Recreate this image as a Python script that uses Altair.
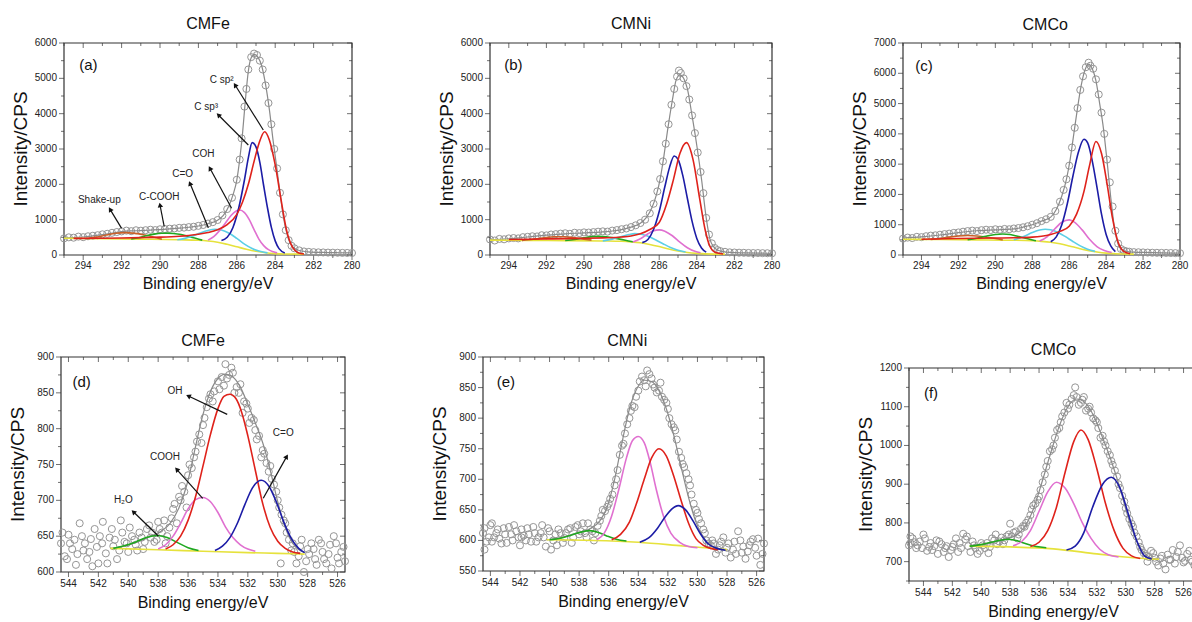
import math
import altair as alt
import pandas as pd

W, H = 1192, 622
FONT = "Liberation Sans"

# ---------------- layout of the six panels (domain -> pixel range) ----------------
LAYOUT = {
    "a": dict(xd=[295, 280], xr=[64, 352], yd=[0, 6000], yr=[255, 43], lab=11, tit=29),
    "b": dict(xd=[295, 280], xr=[490, 772], yd=[0, 6000], yr=[255, 43], lab=11, tit=29),
    "c": dict(xd=[295, 280], xr=[903, 1180], yd=[0, 7000], yr=[255, 43], lab=11, tit=29),
    "d": dict(xd=[544.5, 525.5], xr=[61, 345], yd=[600, 900], yr=[572, 357], lab=12, tit=31),
    "e": dict(xd=[544.5, 525.5], xr=[483, 764], yd=[550, 900], yr=[571, 357], lab=12, tit=31),
    "f": dict(xd=[545, 525], xr=[909, 1198], yd=[650, 1200], yr=[581, 368], lab=12, tit=31),
}

# tick values
C_TICKS = [294, 292, 290, 288, 286, 284, 282, 280]
C_MINOR = [295, 293, 291, 289, 287, 285, 283, 281]
O_TICKS = [544, 542, 540, 538, 536, 534, 532, 530, 528, 526]
O_MINOR = [543, 541, 539, 537, 535, 533, 531, 529, 527]
F_MINOR_X = [545, 543, 541, 539, 537, 535, 533, 531, 529, 527, 525]
Y6 = [0, 1000, 2000, 3000, 4000, 5000, 6000]
Y6_MINOR = [500, 1500, 2500, 3500, 4500, 5500]
Y7 = [0, 1000, 2000, 3000, 4000, 5000, 6000, 7000]
Y7_MINOR = [500, 1500, 2500, 3500, 4500, 5500, 6500]
YD = [600, 650, 700, 750, 800, 850, 900]
YD_MINOR = [625, 675, 725, 775, 825, 875]
YE = [550, 600, 650, 700, 750, 800, 850, 900]
YE_MINOR = [575, 625, 675, 725, 775, 825, 875]
YF = [700, 800, 900, 1000, 1100, 1200]
YF_MINOR = [650, 750, 850, 950, 1050, 1150]

COLORS = {"bg": "#e6e23c", "shake": "#c9612a", "green": "#20a820", "cyan": "#5ccfe6",
          "mag": "#e070d0", "blue": "#1c1ca6", "red": "#df221b"}

# ================= (a) CMFe C1s =================
A_SCATTER = [(295.0, 470), (294.75, 500), (294.5, 490), (294.25, 520), (294.0, 505), (293.75, 530),
             (293.5, 545), (293.25, 560), (293.0, 585), (292.75, 600), (292.5, 628), (292.25, 650),
             (292.0, 668), (291.75, 690), (291.5, 675), (291.25, 700), (291.0, 688), (290.75, 702),
             (290.5, 715), (290.25, 705), (290.0, 728), (289.75, 735), (289.5, 745), (289.25, 752),
             (289.0, 768), (288.75, 775), (288.5, 790), (288.25, 800), (288.0, 825), (287.75, 850),
             (287.5, 890), (287.25, 930), (287.0, 990), (286.75, 1120), (286.5, 1300), (286.25, 1620),
             (286.0, 2130), (285.85, 2700), (285.75, 3300), (285.6, 4200), (285.5, 4700), (285.4, 5250),
             (285.25, 5600), (285.1, 5700), (284.95, 5660), (284.8, 5500), (284.65, 5250), (284.5, 4800),
             (284.35, 4300), (284.2, 3700), (284.05, 3000), (283.9, 2450), (283.75, 1760), (283.6, 1150),
             (283.45, 700), (283.3, 420), (283.15, 260), (283.0, 190), (282.75, 130), (282.5, 100),
             (282.25, 88), (282.0, 80), (281.75, 75), (281.5, 72), (281.25, 68), (281.0, 66),
             (280.75, 63), (280.5, 60), (280.25, 58), (280.0, 57)]
A_FIT = [(295, 480), (294.5, 495), (294, 510), (293.5, 540), (293, 575), (292.5, 620), (292, 660),
         (291.5, 680), (291, 690), (290.5, 705), (290, 720), (289.5, 740), (289, 760), (288.5, 785),
         (288, 820), (287.5, 885), (287, 985), (286.7, 1120), (286.4, 1400), (286.2, 1700), (286.0, 2120),
         (285.85, 2700), (285.7, 3450), (285.55, 4400), (285.4, 5200), (285.25, 5580), (285.08, 5680),
         (284.9, 5600), (284.7, 5350), (284.5, 4820), (284.3, 4100), (284.1, 3200), (283.92, 2480),
         (283.75, 1760), (283.58, 1100), (283.4, 620), (283.22, 330), (283.0, 190), (282.7, 120),
         (282.3, 90), (281.5, 72), (280.7, 64), (280, 60)]
A_BG = [(295, 475), (293, 462), (291, 448), (289, 432), (288, 418), (287.5, 398), (287, 362), (286.5, 302),
        (286, 232), (285.5, 162), (285, 104), (284.5, 62), (284, 40), (283.5, 30), (282.5, 25)]
A_SHAKE = [(293.8, 468), (293.3, 505), (292.8, 565), (292.3, 615), (291.8, 633), (291.3, 612),
           (290.8, 565), (290.3, 505), (289.9, 446)]
A_CCOOH = [(291.5, 455), (291.1, 490), (290.7, 545), (290.3, 590), (289.9, 615), (289.6, 620),
           (289.3, 610), (288.9, 578), (288.5, 520), (288.1, 465), (287.8, 420)]
A_CO = [(289.1, 432), (288.7, 470), (288.3, 540), (287.9, 625), (287.5, 695), (287.15, 728), (286.8, 705),
        (286.4, 615), (286.0, 470), (285.6, 310), (285.2, 185), (284.8, 105), (284.4, 60)]
A_COH = [(287.5, 420), (287.2, 520), (286.9, 690), (286.6, 900), (286.3, 1120), (286.05, 1240),
         (285.85, 1272), (285.6, 1200), (285.35, 1000), (285.1, 720), (284.85, 450), (284.6, 265),
         (284.35, 150), (284.1, 90), (283.9, 60)]
A_SP3 = [(286.8, 410), (286.5, 500), (286.2, 780), (285.9, 1330), (285.6, 2130), (285.4, 2750),
         (285.2, 3180), (285.0, 3060), (284.8, 2620), (284.6, 1960), (284.4, 1330), (284.2, 780),
         (284.0, 400), (283.8, 180), (283.5, 60)]
A_SP2 = [(294.5, 470), (293, 475), (292, 482), (291, 492), (290, 505), (289, 530), (288.5, 552), (288, 585),
         (287.5, 635), (287, 715), (286.5, 860), (286, 1150), (285.7, 1500), (285.4, 2000), (285.1, 2650),
         (284.85, 3150), (284.55, 3490), (284.3, 3250), (284.0, 2550), (283.7, 1580), (283.4, 680),
         (283.1, 220), (282.8, 65), (282.5, 30)]
A_NOTES = [("C sp\u00b2", 286.79, 4953), ("C sp\u00b3", 287.6, 4179), ("COH", 287.74, 2858),
           ("C=O", 288.82, 2292), ("C-COOH", 290.04, 1651), ("Shake-up", 293.16, 1557)]
A_ARROWS = [(284.62, 3538, 286.09, 4811), (285.4, 3113, 286.96, 3962), (286.27, 1321, 287.4, 2453),
            (287.48, 773, 288.44, 2028), (289.78, 802, 290.0, 1415), (292.0, 755, 292.6, 1292)]

# ================= (b) CMNi C1s =================
B_SCATTER = [(295.0, 440), (294.75, 410), (294.5, 455), (294.25, 445), (294.0, 470), (293.75, 480),
             (293.5, 470), (293.25, 505), (293.0, 515), (292.75, 530), (292.5, 525), (292.25, 560),
             (292.0, 555), (291.75, 580), (291.5, 590), (291.25, 605), (291.0, 615), (290.75, 600),
             (290.5, 630), (290.25, 620), (290.0, 640), (289.75, 635), (289.5, 648), (289.25, 660),
             (289.0, 670), (288.75, 662), (288.5, 690), (288.25, 705), (288.0, 730), (287.75, 750),
             (287.5, 790), (287.25, 840), (287.0, 905), (286.75, 1000), (286.5, 1180), (286.3, 1450),
             (286.1, 1800), (285.95, 2150), (285.8, 2650), (285.65, 3150), (285.5, 3700), (285.35, 4250),
             (285.2, 4700), (285.05, 5050), (284.95, 5220), (284.85, 5150), (284.7, 5000), (284.55, 4780),
             (284.4, 4400), (284.25, 3950), (284.1, 3450), (283.95, 2900), (283.8, 2350), (283.65, 1750),
             (283.5, 1050), (283.35, 580), (283.2, 330), (283.05, 200), (282.9, 140), (282.75, 110),
             (282.5, 90), (282.25, 75), (282.0, 70), (281.75, 65), (281.5, 62), (281.25, 58), (281.0, 55),
             (280.75, 55), (280.5, 52), (280.25, 50), (280.0, 48)]
B_FIT = [(295, 430), (294, 460), (293, 510), (292, 560), (291, 600), (290, 625), (289, 655), (288.5, 680),
         (288, 720), (287.5, 790), (287, 900), (286.7, 1050), (286.4, 1320), (286.15, 1700), (285.95, 2150),
         (285.75, 2800), (285.55, 3550), (285.3, 4380), (285.1, 4950), (284.9, 5100), (284.7, 5000),
         (284.5, 4700), (284.27, 4000), (284.0, 3100), (283.75, 2150), (283.5, 1050), (283.3, 450),
         (283.1, 230), (282.9, 140), (282.6, 95), (282.2, 72), (281.5, 60), (280.7, 52), (280, 48)]
B_BG = [(295, 420), (293, 415), (291, 408), (289, 398), (288, 388), (287.5, 372), (287, 345), (286.5, 298),
        (286, 238), (285.5, 170), (285, 112), (284.5, 70), (284, 45), (283.5, 32), (282.5, 25)]
B_SHAKE = [(293.3, 414), (292.7, 445), (292.1, 490), (291.6, 515), (291.1, 518), (290.6, 495),
           (290.1, 455), (289.6, 420)]
B_CCOOH = [(291, 408), (290.5, 440), (290, 485), (289.5, 520), (289.2, 527), (288.8, 515), (288.3, 470),
           (287.8, 420), (287.4, 375)]
B_CO = [(289, 400), (288.5, 450), (288, 525), (287.6, 580), (287.3, 605), (287.0, 595), (286.6, 530),
        (286.2, 430), (285.8, 320), (285.4, 215), (285.0, 135), (284.6, 85)]
B_COH = [(287.4, 370), (287.0, 460), (286.6, 600), (286.3, 685), (286.0, 712), (285.7, 675), (285.3, 545),
         (284.9, 365), (284.5, 205), (284.1, 105), (283.8, 65)]
B_SP3 = [(286.9, 350), (286.6, 440), (286.3, 720), (286.0, 1230), (285.7, 1930), (285.45, 2480),
         (285.2, 2800), (285.0, 2710), (284.75, 2260), (284.5, 1600), (284.25, 950), (284.0, 470),
         (283.75, 200), (283.5, 80)]
B_SP2 = [(294, 440), (292, 455), (290, 470), (289, 485), (288, 510), (287.5, 540), (287, 600), (286.5, 720),
         (286, 920), (285.6, 1450), (285.25, 2120), (284.9, 2870), (284.55, 3180), (284.2, 2700),
         (283.85, 1600), (283.55, 700), (283.3, 240), (283.0, 70), (282.6, 30)]

# ================= (c) CMCo C1s =================
C_SCATTER = [(295.0, 540), (294.75, 575), (294.5, 560), (294.25, 600), (294.0, 590), (293.75, 620),
             (293.5, 640), (293.25, 650), (293.0, 670), (292.75, 690), (292.5, 705), (292.25, 730),
             (292.0, 745), (291.75, 770), (291.5, 790), (291.25, 805), (291.0, 790), (290.75, 820),
             (290.5, 835), (290.25, 825), (290.0, 850), (289.75, 835), (289.5, 860), (289.25, 850),
             (289.0, 875), (288.75, 890), (288.5, 915), (288.25, 950), (288.0, 1000), (287.75, 1050),
             (287.5, 1120), (287.25, 1180), (287.0, 1260), (286.75, 1450), (286.5, 1760), (286.3, 2150),
             (286.15, 2500), (286.0, 2950), (285.85, 3550), (285.7, 4200), (285.55, 4850), (285.4, 5450),
             (285.25, 5900), (285.1, 6200), (284.95, 6350), (284.85, 6250), (284.7, 6150), (284.55, 5800),
             (284.4, 5300), (284.25, 4700), (284.1, 4000), (283.95, 3150), (283.8, 2400), (283.65, 1600),
             (283.5, 800), (283.35, 380), (283.2, 200), (283.05, 150), (282.9, 120), (282.75, 110),
             (282.5, 95), (282.25, 90), (282.0, 85), (281.75, 80), (281.5, 75), (281.25, 72), (281.0, 70),
             (280.75, 68), (280.5, 65), (280.25, 62), (280.0, 60)]
C_FIT = [(295, 560), (294, 600), (293, 660), (292, 740), (291, 800), (290, 830), (289, 860), (288.5, 920),
         (288, 1000), (287.5, 1120), (287, 1250), (286.7, 1500), (286.4, 1950), (286.15, 2500),
         (285.95, 3150), (285.75, 4000), (285.55, 4850), (285.35, 5600), (285.15, 6100), (284.95, 6300),
         (284.75, 6150), (284.55, 5750), (284.35, 5000), (284.15, 4200), (283.95, 3100), (283.75, 1900),
         (283.55, 900), (283.35, 350), (283.15, 170), (282.9, 120), (282.5, 95), (282, 85), (281, 70),
         (280, 60)]
C_BG = [(295, 520), (293, 510), (291, 500), (289, 488), (288, 470), (287.5, 450), (287, 420), (286.5, 370),
        (286, 300), (285.5, 222), (285, 152), (284.5, 100), (284, 62), (283.5, 42), (282.5, 30)]
C_SHAKE = [(293.5, 512), (293.0, 545), (292.5, 590), (292.0, 625), (291.5, 642), (291.0, 628),
           (290.5, 588), (290.0, 545), (289.6, 500)]
C_CCOOH = [(291.5, 505), (291.0, 555), (290.5, 620), (290.0, 675), (289.6, 692), (289.2, 675),
           (288.8, 620), (288.3, 545), (287.8, 470)]
C_CO = [(289.0, 500), (288.5, 600), (288.0, 740), (287.6, 825), (287.3, 850), (287.0, 832), (286.6, 745),
        (286.2, 605), (285.8, 445), (285.4, 300), (285.0, 190), (284.6, 120)]
C_COH = [(287.6, 460), (287.2, 600), (286.8, 850), (286.4, 1080), (286.0, 1160), (285.7, 1080),
         (285.3, 830), (284.9, 520), (284.5, 280), (284.1, 150), (283.7, 80)]
C_SP3 = [(287.0, 440), (286.7, 600), (286.4, 1000), (286.1, 1700), (285.8, 2600), (285.5, 3400),
         (285.2, 3820), (285.0, 3700), (284.75, 3100), (284.5, 2250), (284.25, 1350), (284.0, 680),
         (283.75, 300), (283.5, 110)]
C_SP2 = [(294, 520), (292, 545), (290, 560), (289, 570), (288, 590), (287.5, 620), (287, 680), (286.5, 780),
         (286, 950), (285.6, 1350), (285.2, 2100), (284.9, 2950), (284.55, 3750), (284.25, 3350),
         (283.95, 2350), (283.65, 1200), (283.35, 420), (283.05, 120), (282.7, 40)]

# ================= (d) CMFe O1s =================
D_SCATTER = [(544.5, 640), (544.25, 622), (544.0, 652), (543.75, 632), (543.5, 610), (543.25, 668),
             (543.0, 630), (542.75, 618), (542.5, 646), (542.25, 660), (542.0, 612), (541.75, 640),
             (541.5, 626), (541.25, 648), (541.0, 636), (540.75, 618), (540.5, 672), (540.25, 642),
             (540.0, 628), (539.75, 650), (539.5, 638), (539.25, 655), (539.0, 632), (538.75, 660),
             (538.5, 648), (538.25, 642), (538.0, 670), (537.75, 655), (537.5, 640), (537.25, 662),
             (537.0, 688), (536.75, 668), (536.5, 700), (536.25, 712), (536.0, 735), (535.75, 745),
             (535.5, 768), (535.25, 792), (535.0, 805), (534.75, 830), (534.5, 848), (534.25, 852),
             (534.0, 866), (533.75, 872), (533.5, 890), (533.25, 875), (533.0, 878), (532.75, 858),
             (532.5, 862), (532.25, 838), (532.0, 828), (531.75, 815), (531.5, 798), (531.25, 790),
             (531.0, 770), (530.75, 752), (530.5, 748), (530.25, 722), (530.0, 700), (529.75, 680),
             (529.5, 668), (529.25, 645), (529.0, 640), (528.75, 612), (528.5, 636), (528.25, 600),
             (528.0, 632), (527.75, 640), (527.5, 618), (527.25, 645), (527.0, 628), (526.75, 612),
             (526.5, 638), (526.25, 650), (526.0, 620), (525.75, 628), (525.5, 615),
             (533.6, 860), (533.9, 855), (534.35, 838), (532.9, 850), (532.35, 822), (541.7, 670),
             (543.6, 645), (529.8, 612), (536.1, 690), (535.1, 780)]
D_SCATTER_2 = [(544.4, 655), (544.1, 618), (543.9, 640), (543.4, 625), (543.1, 650), (542.9, 640),
               (542.6, 628), (542.4, 608), (542.1, 635), (541.9, 650), (541.4, 612), (541.1, 660),
               (540.9, 645), (540.6, 630), (540.4, 655), (540.1, 640), (539.9, 662), (539.6, 645),
               (539.4, 630), (539.1, 648), (538.9, 642), (538.6, 665), (538.4, 655), (538.1, 645),
               (537.9, 660), (537.6, 672), (537.4, 650), (537.1, 675), (536.9, 695), (536.6, 705),
               (536.4, 720), (535.9, 750), (535.6, 760), (535.4, 782), (534.9, 815), (534.6, 842),
               (533.4, 870), (533.1, 885), (532.6, 850), (532.1, 835), (531.9, 808), (531.6, 812),
               (531.4, 785), (531.1, 760), (530.9, 765), (530.6, 740), (530.4, 730), (530.1, 712),
               (529.9, 690), (529.6, 672), (529.4, 655), (529.1, 630), (528.9, 628), (528.6, 622),
               (528.4, 645), (528.1, 615), (527.9, 625), (527.6, 632), (527.4, 610), (527.1, 640),
               (526.9, 618), (526.6, 625), (526.4, 605), (526.1, 640), (525.9, 612), (525.6, 635)]
D_FIT = [(541.2, 633), (540.5, 635), (539.5, 641), (538.5, 650), (537.8, 657), (537.2, 668), (536.6, 690),
         (536.0, 728), (535.5, 775), (535.0, 820), (534.5, 852), (534.0, 870), (533.5, 876), (533.0, 872),
         (532.5, 858), (532.0, 834), (531.5, 808), (531.0, 780), (530.5, 742), (530.0, 698), (529.5, 662),
         (529.0, 640), (528.5, 630), (528.2, 627)]
D_BG = [(541.2, 633), (538, 631), (535, 629), (532, 627), (530, 626), (528.2, 625)]
D_H2O = [(541.0, 633), (540.2, 637), (539.5, 642), (538.8, 648), (538.1, 651), (537.4, 648), (536.7, 641),
         (536.0, 634), (535.3, 630)]
D_COOH = [(538, 632), (537.5, 638), (537, 650), (536.5, 668), (536, 688), (535.5, 701), (535.0, 704),
          (534.5, 698), (534, 683), (533.5, 663), (533, 648), (532.5, 638), (532, 632), (531.5, 629)]
D_OH = [(537.5, 632), (537, 638), (536.5, 650), (536, 672), (535.5, 705), (535, 748), (534.5, 792),
        (534, 828), (533.6, 845), (533.2, 848), (532.8, 842), (532.4, 822), (532, 790), (531.5, 742),
        (531, 695), (530.5, 662), (530, 643), (529.5, 633), (529, 628), (528.5, 626)]
D_CO = [(534.2, 630), (533.7, 636), (533.2, 648), (532.7, 668), (532.2, 694), (531.7, 717), (531.1, 728),
        (530.6, 720), (530.1, 698), (529.6, 670), (529.1, 647), (528.6, 633), (528.2, 627)]
D_NOTES = [("OH", 536.87, 853), ("COOH", 537.54, 760), ("C=O", 529.63, 793.5), ("H\u2082O", 540.33, 700.5)]
D_ARROWS = [(533.38, 820, 535.98, 845.6), (535.02, 702.8, 536.76, 743.3), (530.97, 702.8, 529.4, 761),
            (537.99, 650.2, 539.66, 684)]

# ================= (e) CMNi O1s =================
E_SCATTER = [(544.5, 612), (544.25, 598), (544.0, 625), (543.75, 605), (543.5, 618), (543.25, 595),
             (543.0, 610), (542.75, 622), (542.5, 600), (542.25, 615), (542.0, 592), (541.75, 608),
             (541.5, 620), (541.25, 598), (541.0, 612), (540.75, 605), (540.5, 625), (540.25, 590),
             (540.0, 615), (539.75, 600), (539.5, 592), (539.25, 612), (539.0, 604), (538.75, 618),
             (538.5, 596), (538.25, 622), (538.0, 610), (537.75, 628), (537.5, 605), (537.25, 618),
             (537.0, 600), (536.75, 624), (536.5, 640), (536.25, 648), (536.0, 660), (535.75, 675),
             (535.5, 700), (535.25, 740), (535.0, 758), (534.75, 790), (534.5, 812), (534.25, 818),
             (534.0, 845), (533.75, 868), (533.5, 852), (533.25, 872), (533.0, 855), (532.75, 842),
             (532.5, 858), (532.25, 830), (532.0, 815), (531.75, 790), (531.5, 780), (531.25, 745),
             (531.0, 725), (530.75, 710), (530.5, 690), (530.25, 660), (530.0, 645), (529.75, 628),
             (529.5, 612), (529.25, 595), (529.0, 600), (528.75, 578), (528.5, 592), (528.25, 605),
             (528.0, 588), (527.75, 572), (527.5, 598), (527.25, 615), (527.0, 580), (526.75, 570),
             (526.5, 592), (526.25, 602), (526.0, 575), (525.75, 560), (525.5, 595),
             (533.4, 878), (534.15, 835), (544.4, 585), (543.9, 628), (541.9, 605), (539.9, 585)]
E_SCATTER_2 = [(544.4, 620), (544.1, 605), (543.9, 598), (543.6, 612), (543.4, 603), (543.1, 620),
               (542.9, 596), (542.6, 610), (542.4, 625), (542.1, 605), (541.9, 618), (541.6, 600),
               (541.4, 610), (541.1, 622), (540.9, 598), (540.6, 612), (540.4, 605), (540.1, 620),
               (539.6, 610), (539.4, 618), (539.1, 596), (538.9, 612), (538.6, 620), (538.4, 605),
               (538.1, 625), (537.9, 615), (537.6, 612), (537.4, 628), (537.1, 615), (536.9, 612),
               (536.6, 632), (536.4, 650), (536.1, 655), (535.9, 668), (535.6, 690), (535.4, 715),
               (535.1, 755), (534.9, 775), (534.6, 800), (534.4, 820), (533.9, 860), (533.6, 862),
               (533.1, 865), (532.9, 850), (532.6, 845), (532.4, 835), (532.1, 825), (531.9, 800),
               (531.6, 785), (531.4, 765), (531.1, 735), (530.9, 720), (530.6, 700), (530.4, 675),
               (530.1, 650), (529.9, 635), (529.6, 618), (529.4, 600), (529.1, 592), (528.9, 595),
               (528.6, 585), (528.4, 598), (528.1, 580), (527.9, 595), (527.6, 585), (527.4, 578),
               (527.1, 600), (526.9, 590), (526.6, 582), (526.4, 598), (526.1, 588), (525.9, 603),
               (525.6, 578)]
E_FIT = [(540.2, 601), (539, 606), (538, 613), (537.2, 620), (536.6, 632), (536.1, 655), (535.6, 700),
         (535.1, 760), (534.6, 815), (534.1, 848), (533.6, 862), (533.1, 860), (532.6, 845), (532.1, 815),
         (531.6, 772), (531.1, 720), (530.6, 670), (530.1, 630), (529.6, 605), (529.1, 592), (528.6, 587),
         (528.0, 584)]
E_BG = [(540.2, 601), (537, 600), (534, 597), (531, 591), (528, 585)]
E_GREEN = [(540, 601), (539.2, 604), (538.5, 609), (537.8, 614), (537.3, 616), (536.7, 613), (536.1, 607),
           (535.5, 602), (534.8, 599)]
E_MAG = [(536.8, 601), (536.3, 612), (535.8, 640), (535.3, 685), (534.8, 735), (534.4, 763), (534.0, 770),
         (533.6, 760), (533.2, 728), (532.8, 685), (532.3, 640), (531.8, 612), (531.2, 597), (530.6, 590),
         (530.0, 588)]
E_RED = [(535.8, 601), (535.2, 610), (534.6, 630), (534.1, 662), (533.6, 700), (533.1, 735), (532.6, 750),
         (532.1, 738), (531.6, 705), (531.1, 665), (530.6, 628), (530.1, 603), (529.6, 592), (529.1, 587),
         (528.6, 585)]
E_BLUE = [(533.9, 597), (533.3, 604), (532.7, 620), (532.2, 638), (531.7, 652), (531.3, 657), (530.8, 650),
          (530.3, 632), (529.8, 611), (529.3, 595), (528.8, 588), (528.1, 584)]

# ================= (f) CMCo O1s =================
F_SCATTER = [(545.0, 742), (544.75, 760), (544.5, 735), (544.25, 752), (544.0, 770), (543.75, 728),
             (543.5, 748), (543.25, 740), (543.0, 720), (542.75, 745), (542.5, 735), (542.25, 712),
             (542.0, 738), (541.75, 760), (541.5, 748), (541.25, 772), (541.0, 765), (540.75, 725),
             (540.5, 742), (540.25, 720), (540.0, 748), (539.75, 735), (539.5, 722), (539.25, 760),
             (539.0, 770), (538.75, 752), (538.5, 745), (538.25, 765), (538.0, 798), (537.75, 775),
             (537.5, 760), (537.25, 785), (537.0, 790), (536.75, 808), (536.5, 835), (536.25, 850),
             (536.0, 868), (535.75, 905), (535.5, 945), (535.25, 985), (535.0, 1000), (534.75, 1040),
             (534.5, 1060), (534.25, 1085), (534.0, 1095), (533.75, 1120), (533.5, 1150), (533.25, 1105),
             (533.0, 1118), (532.75, 1090), (532.5, 1100), (532.25, 1070), (532.0, 1060), (531.75, 1020),
             (531.5, 1010), (531.25, 985), (531.0, 960), (530.75, 935), (530.5, 900), (530.25, 870),
             (530.0, 838), (529.75, 810), (529.5, 790), (529.25, 765), (529.0, 738), (528.75, 722),
             (528.5, 700), (528.25, 728), (528.0, 710), (527.75, 690), (527.5, 715), (527.25, 680),
             (527.0, 705), (526.75, 730), (526.5, 712), (526.25, 742), (526.0, 698), (525.75, 720),
             (525.5, 705), (525.25, 690), (525.0, 712),
             (533.6, 1130), (534.1, 1110), (532.9, 1125), (544.9, 765), (543.1, 755), (541.6, 725)]
F_SCATTER_2 = [(544.9, 748), (544.6, 750), (544.4, 742), (544.1, 735), (543.9, 760), (543.6, 738),
               (543.4, 730), (542.9, 752), (542.6, 725), (542.4, 740), (542.1, 730), (541.9, 745),
               (541.4, 735), (541.1, 758), (540.9, 740), (540.6, 752), (540.4, 735), (540.1, 728),
               (539.9, 742), (539.6, 748), (539.4, 738), (539.1, 755), (538.9, 745), (538.6, 762),
               (538.4, 755), (538.1, 770), (537.9, 765), (537.6, 778), (537.4, 770), (537.1, 792),
               (536.9, 800), (536.6, 820), (536.4, 845), (536.1, 860), (535.9, 885), (535.6, 925),
               (535.4, 960), (535.1, 990), (534.9, 1020), (534.6, 1045), (534.4, 1075), (533.9, 1105),
               (533.4, 1125), (533.1, 1110), (532.6, 1095), (532.4, 1085), (532.1, 1065), (531.9, 1045),
               (531.6, 1025), (531.4, 1000), (531.1, 975), (530.9, 950), (530.6, 920), (530.4, 890),
               (530.1, 855), (529.9, 825), (529.6, 798), (529.4, 775), (529.1, 750), (528.9, 730),
               (528.6, 715), (528.4, 712), (528.1, 722), (527.9, 700), (527.6, 708), (527.4, 695),
               (527.1, 718), (526.9, 705), (526.6, 695), (526.4, 725), (526.1, 710), (525.9, 702),
               (525.6, 728), (525.4, 700), (525.1, 695)]
F_FIT = [(540.8, 740), (539.5, 748), (538.5, 757), (537.6, 768), (537.0, 790), (536.4, 835), (535.8, 905),
         (535.2, 980), (534.6, 1050), (534.0, 1100), (533.4, 1120), (532.8, 1110), (532.2, 1075),
         (531.6, 1020), (531.0, 960), (530.4, 890), (529.8, 810), (529.2, 750), (528.6, 718), (528.0, 706),
         (527.7, 705)]
F_BG = [(540.8, 740), (538, 738), (535, 733), (532, 720), (529.5, 710), (527.7, 706)]
F_GREEN = [(540.8, 740), (540, 744), (539.3, 750), (538.6, 756), (538.1, 758), (537.5, 754), (536.9, 746),
           (536.2, 739), (535.5, 736)]
F_MAG = [(537.8, 741), (537.2, 752), (536.6, 780), (536.0, 830), (535.4, 880), (534.8, 905), (534.2, 890),
         (533.6, 850), (533.0, 800), (532.4, 760), (531.8, 732), (531.2, 718), (530.5, 712)]
F_RED = [(536.6, 739), (536.0, 750), (535.4, 780), (534.8, 840), (534.2, 930), (533.6, 1010), (533.1, 1040),
         (532.6, 1015), (532.0, 940), (531.4, 850), (530.8, 780), (530.2, 735), (529.6, 715), (529.0, 708)]
F_BLUE = [(534.1, 730), (533.5, 740), (532.9, 775), (532.3, 840), (531.6, 900), (531.0, 918), (530.4, 890),
          (529.8, 820), (529.2, 750), (528.7, 715), (528.2, 707)]

# titles / panel letters (text, E, I)
TITLES = {"a": ("CMFe", 287.5, 6540), "b": ("CMNi", 287.5, 6540), "c": ("CMCo", 287.3, 7594),
          "d": ("CMFe", 535.0, 922), "e": ("CMNi", 534.75, 926), "f": ("CMCo", 535.0, 1246)}
LETTERS = {"a": ("(a)", 293.73, 5377), "b": ("(b)", 293.76, 5377), "c": ("(c)", 293.86, 6241),
           "d": ("(d)", 543.12, 865.5), "e": ("(e)", 542.95, 859.6), "f": ("(f)", 543.48, 1134.7)}

X_TITLE = "Binding energy/eV"
Y_TITLE = "Intensity/CPS"
TICK_COLOR = "#333333"
TEXT_COLOR = "#222222"


def df(pairs):
    return pd.DataFrame(pairs, columns=["E", "I"])


def to_px(L, E, I):
    x = L["xr"][0] + (E - L["xd"][0]) / (L["xd"][1] - L["xd"][0]) * (L["xr"][1] - L["xr"][0])
    y = L["yr"][0] + (I - L["yd"][0]) / (L["yd"][1] - L["yd"][0]) * (L["yr"][1] - L["yr"][0])
    return x, y


def fmt(v):
    return str(int(v)) if float(v).is_integer() else str(v)


def panel(key, scatter, fit, comps, xticks, xminor, yticks, yminor, notes=(), arrows=()):
    L = LAYOUT[key]
    xs = alt.Scale(domain=L["xd"], range=L["xr"], nice=False, zero=False)
    ys = alt.Scale(domain=L["yd"], range=L["yr"], nice=False, zero=False)
    x0, x1 = L["xd"]
    y0, y1 = L["yd"]

    def X(f="E"):
        return alt.X(f"{f}:Q", scale=xs, axis=None)

    def Y(f="I"):
        return alt.Y(f"{f}:Q", scale=ys, axis=None)

    def tick_df(vals, fixed, horizontal_axis=True):
        if horizontal_axis:
            return pd.DataFrame({"E": vals, "I": [fixed] * len(vals), "t": [fmt(v) for v in vals]})
        return pd.DataFrame({"E": [fixed] * len(vals), "I": vals, "t": [fmt(v) for v in vals]})

    layers = []
    # frame box
    frame_df = pd.DataFrame({"E": [x0], "E2": [x1], "I": [y0], "I2": [y1]})
    layers.append(alt.Chart(frame_df).mark_rect(fill="white", fillOpacity=0, stroke=TICK_COLOR,
                                                strokeWidth=1.2).encode(x=X(), x2="E2:Q", y=Y(), y2="I2:Q"))
    # ticks: bottom (outward), top (inward), left (outward), right (inward)
    for vals, size in ((xticks, 5), (xminor, 3)):
        layers.append(alt.Chart(tick_df(vals, y0)).mark_tick(orient="vertical", size=size, thickness=1,
                                                             color=TICK_COLOR, yOffset=size / 2).encode(x=X(), y=Y()))
        layers.append(alt.Chart(tick_df(vals, y1)).mark_tick(orient="vertical", size=size, thickness=1,
                                                             color=TICK_COLOR, yOffset=size / 2).encode(x=X(), y=Y()))
    for vals, size in ((yticks, 5), (yminor, 3)):
        layers.append(alt.Chart(tick_df(vals, x0, False)).mark_tick(orient="horizontal", size=size, thickness=1,
                                                                    color=TICK_COLOR, xOffset=-size / 2).encode(x=X(), y=Y()))
        layers.append(alt.Chart(tick_df(vals, x1, False)).mark_tick(orient="horizontal", size=size, thickness=1,
                                                                    color=TICK_COLOR, xOffset=-size / 2).encode(x=X(), y=Y()))
    # tick labels
    layers.append(alt.Chart(tick_df(xticks, y0)).mark_text(font=FONT, fontSize=10, color=TEXT_COLOR,
                                                           baseline="middle", dy=L["lab"]).encode(
        x=X(), y=Y(), text="t:N"))
    layers.append(alt.Chart(tick_df(yticks, x0, False)).mark_text(font=FONT, fontSize=10, color=TEXT_COLOR,
                                                                  baseline="middle", align="right", dx=-7).encode(
        x=X(), y=Y(), text="t:N"))
    # axis titles
    xt = pd.DataFrame({"E": [(x0 + x1) / 2], "I": [y0], "t": [X_TITLE]})
    layers.append(alt.Chart(xt).mark_text(font=FONT, fontSize=16, color="#111111", baseline="middle",
                                          dy=L["tit"]).encode(x=X(), y=Y(), text="t:N"))
    yt = pd.DataFrame({"E": [x0], "I": [(y0 + y1) / 2], "t": [Y_TITLE]})
    layers.append(alt.Chart(yt).mark_text(font=FONT, fontSize=19, color="#111111", baseline="middle",
                                          angle=270, dy=-43).encode(x=X(), y=Y(), text="t:N"))
    # data
    layers.append(alt.Chart(df(scatter)).mark_point(shape="circle", filled=False, size=50, stroke="#959595",
                                                    strokeWidth=1, opacity=1).encode(x=X(), y=Y()))
    layers.append(alt.Chart(df(fit)).mark_line(color="#8a8a8a", strokeWidth=1.2,
                                               interpolate="monotone").encode(x=X(), y=Y()))
    for color, data in comps:
        layers.append(alt.Chart(df(data)).mark_line(color=COLORS[color], strokeWidth=1.6,
                                                    interpolate="monotone").encode(x=X(), y=Y()))
    if arrows:
        rows = []
        for (e1, i1, e2, i2) in arrows:
            px1, py1 = to_px(L, e1, i1)
            px2, py2 = to_px(L, e2, i2)
            ang = math.degrees(math.atan2(px2 - px1, -(py2 - py1))) % 360
            rows.append({"E": e1, "I": i1, "E2": e2, "I2": i2, "ang": ang})
        adf = pd.DataFrame(rows)
        layers.append(alt.Chart(adf).mark_rule(color="#111111", strokeWidth=1.2).encode(
            x=X(), y=Y(), x2="E2:Q", y2="I2:Q"))
        layers.append(alt.Chart(adf).mark_point(shape="triangle-up", filled=True, size=30, color="#111111",
                                                opacity=1).encode(
            x=X("E2"), y=Y("I2"), angle=alt.Angle("ang:Q", scale=None)))
    if notes:
        ndf = pd.DataFrame(list(notes), columns=["t", "E", "I"])
        layers.append(alt.Chart(ndf).mark_text(font=FONT, fontSize=10, color=TEXT_COLOR).encode(
            x=X(), y=Y(), text="t:N"))
    t = TITLES[key]
    layers.append(alt.Chart(pd.DataFrame([t], columns=["t", "E", "I"])).mark_text(
        font=FONT, fontSize=16, color="#111111").encode(x=X(), y=Y(), text="t:N"))
    lt = LETTERS[key]
    layers.append(alt.Chart(pd.DataFrame([lt], columns=["t", "E", "I"])).mark_text(
        font=FONT, fontSize=15, color="#111111").encode(x=X(), y=Y(), text="t:N"))
    return alt.layer(*layers)


pa = panel("a", A_SCATTER, A_FIT,
           [("bg", A_BG), ("shake", A_SHAKE), ("green", A_CCOOH), ("cyan", A_CO), ("mag", A_COH),
            ("blue", A_SP3), ("red", A_SP2)], C_TICKS, C_MINOR, Y6, Y6_MINOR, A_NOTES, A_ARROWS)
pb = panel("b", B_SCATTER, B_FIT,
           [("bg", B_BG), ("shake", B_SHAKE), ("green", B_CCOOH), ("cyan", B_CO), ("mag", B_COH),
            ("blue", B_SP3), ("red", B_SP2)], C_TICKS, C_MINOR, Y6, Y6_MINOR)
pc = panel("c", C_SCATTER, C_FIT,
           [("bg", C_BG), ("shake", C_SHAKE), ("green", C_CCOOH), ("cyan", C_CO), ("mag", C_COH),
            ("blue", C_SP3), ("red", C_SP2)], C_TICKS, C_MINOR, Y7, Y7_MINOR)
pd_ = panel("d", D_SCATTER + D_SCATTER_2, D_FIT,
            [("bg", D_BG), ("green", D_H2O), ("mag", D_COOH), ("red", D_OH), ("blue", D_CO)],
            O_TICKS, O_MINOR, YD, YD_MINOR, D_NOTES, D_ARROWS)
pe = panel("e", E_SCATTER + E_SCATTER_2, E_FIT,
           [("bg", E_BG), ("green", E_GREEN), ("mag", E_MAG), ("red", E_RED), ("blue", E_BLUE)],
           O_TICKS, O_MINOR, YE, YE_MINOR)
pf = panel("f", F_SCATTER + F_SCATTER_2, F_FIT,
           [("bg", F_BG), ("green", F_GREEN), ("mag", F_MAG), ("red", F_RED), ("blue", F_BLUE)],
           O_TICKS, F_MINOR_X, YF, YF_MINOR)

chart = alt.layer(pa, pb, pc, pd_, pe, pf).resolve_scale(
    x="independent", y="independent"
).properties(
    width=W, height=H, padding=0, autosize=alt.AutoSizeParams(type="none"), background="white"
).configure_view(
    strokeOpacity=0
)

chart.save("out.html", embed_options={"renderer": "svg", "actions": False})
